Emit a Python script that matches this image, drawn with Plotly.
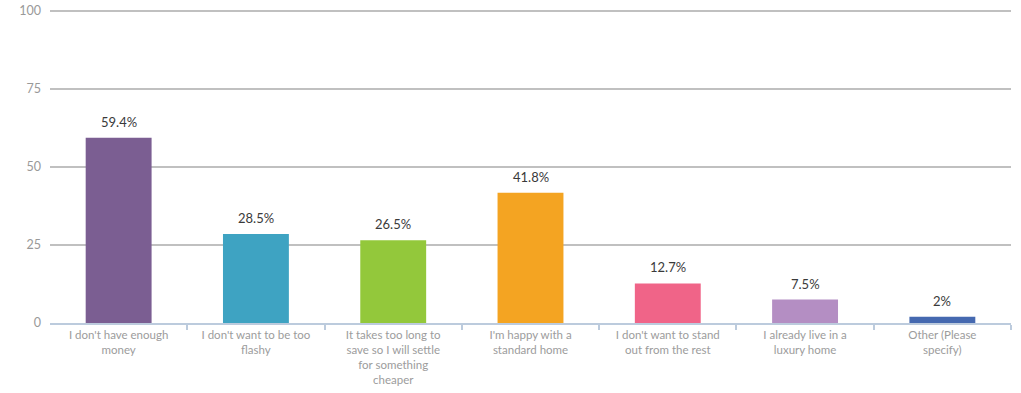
import plotly.graph_objects as go

categories = [
    "I don't have enough<br>money",
    "I don't want to be too<br>flashy",
    "It takes too long to<br>save so I will settle<br>for something<br>cheaper",
    "I'm happy with a<br>standard home",
    "I don't want to stand<br>out from the rest",
    "I already live in a<br>luxury home",
    "Other (Please<br>specify)",
]
values = [59.4, 28.5, 26.5, 41.8, 12.7, 7.5, 2]
labels = ["59.4%", "28.5%", "26.5%", "41.8%", "12.7%", "7.5%", "2%"]
colors = ["#7b5e92", "#3ea3c2", "#93c83b", "#f4a422", "#f06488", "#b48ec3", "#4569b0"]
y_ticks = [0, 25, 50, 75, 100]

xs = list(range(len(categories)))

fig = go.Figure(
    go.Bar(
        x=xs,
        y=values,
        marker=dict(color=colors, line=dict(width=0)),
        width=0.48,
        hoverinfo="skip",
    )
)

# value labels sitting a little above each bar
for x, v, t in zip(xs, values, labels):
    fig.add_annotation(
        x=x, y=v, text=t, showarrow=False, yanchor="middle", yshift=16,
        font=dict(family="Lato", size=13, color="#3a3a3a"),
    )

fig.update_layout(
    width=1021,
    height=393,
    margin=dict(l=50, r=10, t=8, b=70),
    plot_bgcolor="white",
    paper_bgcolor="white",
    showlegend=False,
    font=dict(family="Lato", color="#999999"),
)

fig.update_xaxes(
    range=[-0.5, len(categories) - 0.5],
    tickmode="array",
    tickvals=xs,
    ticktext=categories,
    tickfont=dict(family="Lato", size=11.5, color="#9c9c9c"),
    showgrid=False,
    showline=True,
    linecolor="#bccbdd",
    linewidth=2,
    ticks="",
    zeroline=False,
    automargin=False,
    minor=dict(tickmode="array", tickvals=[i + 0.5 for i in xs],
               ticks="outside", ticklen=5, tickcolor="#bccbdd", tickwidth=2),
)

fig.update_yaxes(
    range=[0, 101],
    tickmode="array",
    tickvals=y_ticks,
    ticktext=[str(v) for v in y_ticks],
    tickfont=dict(family="Lato", size=12.5, color="#999999"),
    showgrid=True,
    gridcolor="#c0c0c0",
    gridwidth=2,
    zeroline=False,
    ticks="",
    ticklabelstandoff=8,
    automargin=False,
)

fig.write_html("out.html")
